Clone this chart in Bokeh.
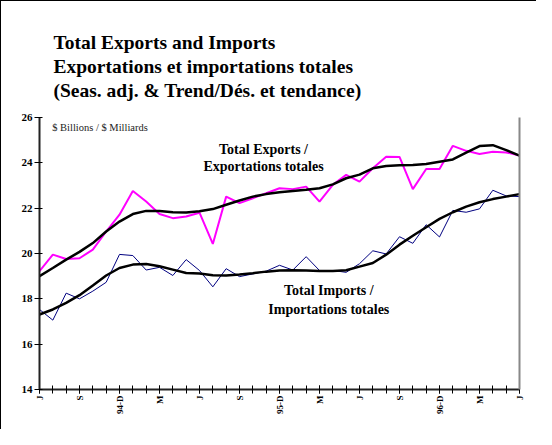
import math
from bokeh.plotting import figure
from bokeh.models import Range1d, FixedTicker, LinearAxis, Label, Title
from bokeh.embed import file_html
from bokeh.resources import INLINE

# ---- data (monthly, June 1993 .. June 1996) ----
months = list(range(37))
tick_labels = ["J", "S", "94-D", "M", "J", "S", "95-D", "M", "J", "S", "96-D", "M", "J"]
y_ticks = [14, 16, 18, 20, 22, 24, 26]

exports = [19.22, 19.95, 19.76, 19.79, 20.17, 20.97, 21.71, 22.76, 22.29, 21.74,
           21.56, 21.63, 21.80, 20.42, 22.51, 22.22, 22.44, 22.66, 22.88, 22.84,
           22.95, 22.29, 23.03, 23.47, 23.17, 23.76, 24.27, 24.26, 22.84, 23.73,
           23.73, 24.75, 24.53, 24.39, 24.49, 24.46, 24.32]
export_trend = [19.00, 19.36, 19.73, 20.07, 20.46, 20.97, 21.41, 21.74, 21.88, 21.88,
                21.82, 21.81, 21.86, 21.96, 22.15, 22.34, 22.51, 22.62, 22.70, 22.76,
                22.81, 22.88, 23.05, 23.32, 23.48, 23.76, 23.86, 23.89, 23.90, 23.95,
                24.05, 24.15, 24.45, 24.74, 24.78, 24.56, 24.32]
imports = [17.53, 17.06, 18.25, 18.00, 18.34, 18.73, 19.96, 19.91, 19.27, 19.39,
           19.03, 19.73, 19.25, 18.53, 19.33, 18.98, 19.10, 19.22, 19.48, 19.27,
           19.86, 19.25, 19.25, 19.17, 19.55, 20.12, 19.98, 20.74, 20.45, 21.27,
           20.73, 21.90, 21.82, 21.97, 22.79, 22.54, 22.51]
import_trend = [17.31, 17.53, 17.82, 18.16, 18.59, 19.03, 19.36, 19.51, 19.54, 19.44,
                19.29, 19.14, 19.12, 19.04, 19.03, 19.07, 19.13, 19.20, 19.25, 19.26,
                19.25, 19.23, 19.23, 19.26, 19.42, 19.58, 19.95, 20.39, 20.78, 21.16,
                21.53, 21.82, 22.07, 22.26, 22.40, 22.51, 22.62]

title_lines = ["Total Exports and Imports",
               "Exportations et importations totales",
               "(Seas. adj. & Trend/Dés. et tendance)"]

SERIF = "Liberation Serif"

p = figure(width=536, height=429, output_backend="svg", toolbar_location=None,
           x_range=Range1d(0, 36), y_range=Range1d(14, 26),
           min_border_left=38, min_border_right=18, min_border_top=116,
           min_border_bottom=41)
p.outline_line_color = None
p.xgrid.visible = False
p.ygrid.visible = False
p.background_fill_color = "white"
p.border_fill_color = "white"
p.styles = {"border-left": "1px solid black", "border-top": "1px solid black"}

# x axis
xa = p.xaxis[0]
xa.ticker = FixedTicker(ticks=list(range(0, 37, 3)), minor_ticks=months)
xa.major_label_overrides = {i * 3: lab for i, lab in enumerate(tick_labels)}
xa.major_label_orientation = math.pi / 2
xa.major_label_text_font = SERIF
xa.major_label_text_font_style = "bold"
xa.major_label_text_font_size = "9px"
xa.major_label_text_color = "black"
xa.major_label_standoff = 2
xa.axis_line_color = "#222222"
xa.axis_line_width = 2
xa.major_tick_in = 4
xa.major_tick_out = 4
xa.minor_tick_in = 4
xa.minor_tick_out = 4
xa.major_tick_line_color = "black"
xa.minor_tick_line_color = "black"

# y axis
ya = p.yaxis[0]
ya.ticker = FixedTicker(ticks=y_ticks)
ya.major_label_text_font = SERIF
ya.major_label_text_font_style = "bold"
ya.major_label_text_font_size = "11px"
ya.major_label_text_color = "black"
ya.major_label_standoff = 2
ya.axis_line_color = "#222222"
ya.axis_line_width = 2
ya.major_tick_in = 3
ya.major_tick_out = 5
ya.minor_tick_line_color = None
ya.major_tick_line_color = "black"

# right frame edge
ra = LinearAxis(ticker=FixedTicker(ticks=[]), axis_line_color="#888888",
                axis_line_width=2, major_tick_line_color=None,
                minor_tick_line_color=None, major_label_text_font_size="0px")
p.add_layout(ra, "right")

# lines
p.line(months, exports, color="#FF00FF", line_width=2)
p.line(months, imports, color="#000080", line_width=1)
p.line(months, export_trend, color="black", line_width=2.5)
p.line(months, import_trend, color="black", line_width=2.5)

# titles: a small spacer next to the frame, then the three lines bottom-up
p.add_layout(Title(text=" ", text_font_size="8px", standoff=6), "above")
for k, txt in enumerate(reversed(title_lines)):
    t = Title(text=txt, align="left", offset=14, text_font=SERIF,
              text_font_style="bold", text_font_size="19.5px", text_color="black",
              standoff=(0 if k == 0 else 0.5))
    p.add_layout(t, "above")

lab_kw = dict(text_font=SERIF, text_font_style="bold", text_font_size="14px",
              text_align="center", text_baseline="middle", text_color="black")
p.add_layout(Label(x=16.8, y=24.59, text="Total Exports /", **lab_kw))
p.add_layout(Label(x=16.8, y=23.84, text="Exportations totales", **lab_kw))
p.add_layout(Label(x=21.7, y=18.37, text="Total Imports /", **lab_kw))
p.add_layout(Label(x=21.7, y=17.53, text="Importations totales", **lab_kw))
p.add_layout(Label(x=0.95, y=25.56, text="$ Billions / $ Milliards", text_font=SERIF,
                   text_font_size="10.5px", text_align="left",
                   text_baseline="middle", text_color="#222222"))

open("out.html", "w").write(file_html(p, INLINE))
